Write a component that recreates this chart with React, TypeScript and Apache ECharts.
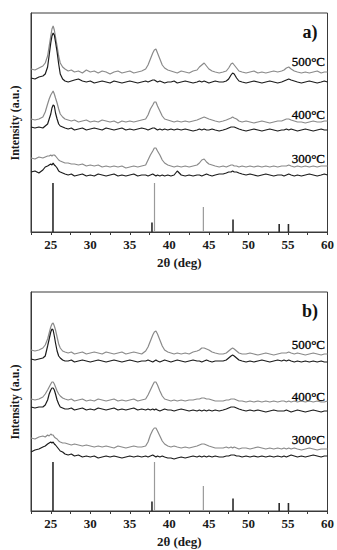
import React, { useEffect, useRef } from "react";
import * as echarts from "echarts";

// 2θ sampling grid (deg), denser around the reflections
const twoTheta = [
  22.5, 23.0, 23.5, 24.0, 24.3, 24.6, 24.8, 25.0, 25.15, 25.3, 25.45, 25.6, 25.8, 26.0, 26.2, 26.5, 26.8,
  27.2, 27.6, 28.0, 28.5, 29.0, 29.5, 30.0, 30.5, 31.0, 31.5, 32.0, 32.5, 33.0, 33.5, 34.0, 34.5, 35.0, 35.5, 36.0, 36.5,
  37.0, 37.3, 37.6, 37.9, 38.1, 38.3, 38.5, 38.8, 39.1, 39.4, 39.8,
  40.2, 40.6, 41.0, 41.5, 42.0, 42.5, 43.0, 43.5,
  43.8, 44.1, 44.4, 44.7, 45.0, 45.4, 45.8, 46.3,
  46.8, 47.2, 47.5, 47.8, 48.0, 48.2, 48.5, 48.8, 49.2,
  49.7, 50.2, 50.7, 51.2, 51.7, 52.2, 52.7, 53.2, 53.7, 54.2,
  54.5, 54.8, 55.1, 55.4, 55.8, 56.2, 56.7, 57.2, 57.7, 58.2, 58.7, 59.2, 59.6, 60.0,
];

// Panel a) — stacked patterns (offset intensity, a.u.)
const a500Grey = [
  163, 162, 164, 166, 169, 176, 186, 196, 203, 206, 202, 195, 186, 176, 169, 165, 163,
  161, 162, 160, 161, 159, 162, 160, 161, 159, 161, 160, 158, 160, 161, 159, 160, 161, 159, 160, 161,
  163, 167, 173, 179, 182, 183, 179, 173, 167, 164, 162,
  161, 160, 159, 161, 160, 159, 161, 162,
  165, 167, 169, 166, 163, 161, 160, 159,
  160, 161, 164, 168, 169, 167, 164, 161, 160,
  159, 160, 161, 159, 160, 159, 160, 161, 160, 161,
  162, 164, 165, 163, 161, 160, 159, 160, 159, 160, 161, 159, 160, 160,
];
const a500Black = [
  154, 153, 155, 156, 158, 165, 177, 189, 196, 199, 197, 190, 180, 168, 158, 153, 151,
  150, 151, 152, 153, 151, 150, 151, 149, 150, 151, 150, 149, 151, 150, 149, 150, 151, 150, 149, 150,
  151, 150, 151, 152, 152, 151, 150, 151, 150, 149, 150,
  150, 151, 149, 150, 151, 150, 149, 150,
  151, 150, 151, 150, 149, 150, 151, 150,
  150, 151, 153, 157, 159, 158, 154, 151, 150,
  149, 150, 151, 150, 149, 150, 151, 150, 149, 150,
  151, 152, 153, 152, 151, 150, 149, 150, 151, 150, 149, 150, 151, 150,
];
const a400Grey = [
  113, 112, 113, 115, 120, 128, 133, 137, 139, 141, 138, 134, 129, 123, 118, 115, 113,
  112, 111, 112, 110, 111, 112, 110, 111, 110, 112, 111, 110, 111, 109, 111, 110, 111, 110, 111, 112,
  113, 117, 123, 127, 130, 130, 126, 121, 116, 113, 112,
  111, 110, 111, 110, 111, 110, 111, 112,
  113, 114, 115, 114, 113, 112, 111, 110,
  111, 112, 113, 114, 115, 114, 113, 111, 110,
  111, 110, 109, 110, 111, 110, 109, 110, 111, 111,
  112, 113, 113, 112, 111, 110, 110, 109, 110, 111, 110, 110, 111, 111,
];
const a400Black = [
  105, 104, 105, 104, 106, 108, 113, 118, 124, 127, 126, 119, 113, 108, 106, 105, 104,
  103, 104, 102, 103, 104, 102, 103, 104, 103, 102, 104, 103, 102, 103, 104, 102, 103, 102, 103, 104,
  103, 102, 103, 104, 104, 103, 102, 103, 102, 103, 102,
  103, 102, 103, 102, 103, 102, 101, 102,
  103, 102, 103, 102, 102, 103, 102, 101,
  102, 103, 104, 105, 105, 105, 104, 103, 102,
  101, 102, 103, 102, 101, 102, 103, 102, 101, 102,
  102, 103, 102, 103, 102, 101, 102, 103, 102, 101, 102, 103, 102, 102,
];
const a300Grey = [
  74, 73, 75, 74, 75, 76, 76, 77, 76, 77, 77, 76, 74, 72, 71, 70, 69,
  69, 68, 68, 67, 68, 66, 67, 66, 67, 65, 66, 65, 66, 65, 66, 64, 65, 66, 65, 66,
  67, 72, 77, 81, 84, 84, 81, 77, 72, 69, 67,
  66, 65, 66, 65, 66, 65, 66, 67,
  69, 72, 73, 70, 68, 67, 66, 65,
  66, 65, 66, 67, 67, 66, 66, 65, 66,
  65, 66, 65, 66, 65, 66, 65, 66, 65, 66,
  66, 66, 67, 66, 65, 66, 65, 66, 65, 66, 65, 66, 66, 66,
];
const a300Black = [
  60, 61, 59, 62, 65, 66, 67, 68, 67, 69, 67, 66, 64, 61, 60, 59, 58,
  57, 58, 56, 57, 58, 56, 57, 56, 58, 57, 56, 57, 58, 56, 57, 56, 57, 58, 56, 57,
  57, 56, 57, 58, 57, 56, 57, 56, 57, 56, 57,
  56, 57, 61, 57, 56, 57, 56, 57,
  57, 56, 57, 58, 57, 56, 57, 58,
  58, 59, 60, 60, 61, 60, 60, 59, 58,
  57, 58, 57, 56, 57, 58, 57, 56, 57, 57,
  56, 57, 58, 57, 56, 57, 56, 57, 58, 57, 56, 57, 58, 57,
];

// Panel b)
const b500Grey = [
  161, 160, 161, 163, 166, 172, 178, 184, 187, 188, 185, 181, 174, 167, 163, 160, 159,
  158, 159, 157, 158, 159, 157, 158, 159, 158, 157, 159, 158, 157, 158, 159, 157, 158, 159, 158, 157,
  160, 164, 170, 176, 179, 180, 177, 171, 165, 161, 159,
  158, 157, 158, 157, 158, 157, 159, 160,
  161, 163, 163, 162, 161, 159, 158, 157,
  157, 158, 160, 162, 163, 162, 160, 158, 157,
  157, 158, 157, 156, 157, 158, 157, 156, 157, 158,
  158, 158, 159, 158, 157, 158, 157, 156, 157, 158, 157, 156, 157, 157,
];
const b500Black = [
  152, 151, 152, 153, 155, 165, 172, 179, 182, 181, 175, 168, 160, 155, 153, 151, 150,
  150, 151, 149, 150, 151, 150, 149, 150, 151, 150, 149, 150, 151, 150, 149, 150, 151, 150, 149, 150,
  150, 151, 150, 149, 150, 151, 150, 149, 150, 151, 150,
  149, 150, 151, 150, 149, 150, 151, 150,
  150, 149, 150, 151, 150, 149, 150, 150,
  150, 151, 153, 155, 156, 155, 153, 151, 150,
  149, 150, 149, 150, 151, 150, 149, 150, 151, 150,
  151, 150, 151, 150, 149, 150, 149, 150, 149, 150, 149, 150, 149, 149,
];
const b400Grey = [
  112, 111, 112, 114, 117, 121, 124, 127, 129, 129, 127, 124, 120, 117, 115, 113, 112,
  111, 112, 110, 111, 112, 110, 111, 110, 112, 111, 110, 111, 112, 110, 111, 110, 111, 112, 110, 111,
  112, 116, 121, 126, 129, 129, 126, 120, 115, 112, 111,
  110, 111, 110, 111, 110, 111, 111, 112,
  112, 113, 113, 112, 112, 111, 110, 110,
  110, 111, 111, 112, 112, 112, 111, 110, 110,
  109, 110, 109, 110, 109, 110, 109, 110, 109, 110,
  110, 109, 110, 109, 110, 109, 110, 109, 110, 109, 110, 109, 109, 110,
];
const b400Black = [
  104, 103, 104, 104, 106, 111, 117, 121, 123, 123, 121, 117, 111, 107, 104, 103, 102,
  102, 103, 101, 102, 103, 101, 102, 101, 103, 102, 101, 102, 103, 101, 102, 101, 102, 103, 101, 102,
  101, 102, 101, 102, 101, 102, 101, 100, 101, 102, 101,
  101, 100, 101, 102, 101, 100, 101, 100,
  101, 100, 101, 100, 101, 100, 101, 100,
  101, 102, 103, 104, 104, 104, 103, 102, 101,
  100, 101, 100, 101, 100, 99, 100, 101, 100, 100,
  100, 101, 100, 99, 100, 101, 100, 99, 100, 101, 100, 99, 100, 100,
];
const b300Grey = [
  73, 72, 74, 75, 74, 76, 75, 77, 76, 76, 74, 73, 72, 70, 69, 68, 68,
  67, 66, 67, 66, 65, 66, 65, 64, 65, 64, 65, 64, 63, 65, 64, 63, 64, 65, 64, 64,
  65, 69, 76, 81, 83, 83, 80, 75, 70, 67, 65,
  64, 65, 64, 63, 64, 63, 64, 65,
  66, 67, 67, 66, 65, 64, 63, 63,
  63, 64, 63, 64, 63, 64, 63, 62, 63,
  63, 62, 63, 64, 63, 62, 63, 62, 63, 62,
  63, 62, 63, 62, 63, 62, 61, 62, 63, 62, 61, 62, 62, 62,
];
const b300Black = [
  59, 61, 62, 64, 65, 67, 68, 69, 68, 69, 67, 66, 64, 62, 60, 59, 57,
  56, 57, 55, 56, 54, 55, 54, 55, 53, 54, 55, 54, 55, 54, 53, 54, 55, 54, 55, 54,
  55, 54, 55, 56, 55, 54, 55, 54, 55, 54, 53,
  53, 52, 53, 54, 53, 54, 55, 54,
  55, 54, 55, 54, 55, 54, 55, 54,
  54, 55, 55, 56, 56, 56, 55, 55, 54,
  55, 54, 55, 54, 55, 54, 55, 54, 55, 54,
  55, 54, 55, 56, 55, 54, 55, 54, 55, 56, 55, 54, 55, 55,
];

// Reference reflections (position in 2θ, stick height)
const anatasePos = [25.28, 37.8, 48.05, 53.89, 55.06];
const anataseHeight = [49, 9.5, 12.5, 8, 8];
const silverPos = [38.12, 44.3];
const silverHeight = [49, 25];

const tempLabels = ["500°C", "400°C", "300°C"];
const panelLabels = ["a)", "b)"];

const SERIF = "'Liberation Serif', 'DejaVu Serif', 'Times New Roman', serif";
const GREY = "#8a8a8a";
const DARK = "#1c1c1c";
const AXIS = "#3a3a3a";

const GRID_LEFT = 31;
const GRID_WIDTH = 298;
const GRID_HEIGHT = 219;
const GRID_TOPS = [13, 292];
const Y_MAX = 219;

function pairs(ys: number[]) {
  return twoTheta.map((t, i) => [t, ys[i]]);
}

function stickSeries(idx: number, pos: number[], h: number[], color: string, width: number) {
  return {
    type: "custom",
    xAxisIndex: idx,
    yAxisIndex: idx,
    data: pos.map((p, i) => [p, h[i]]),
    encode: { x: 0, y: 1 },
    silent: true,
    renderItem: (_params: any, api: any) => {
      const x = api.value(0);
      const hgt = api.value(1);
      const p0 = api.coord([x, 0]);
      const p1 = api.coord([x, hgt]);
      return {
        type: "line",
        shape: { x1: p0[0], y1: p0[1], x2: p1[0], y2: p1[1] },
        style: { stroke: color, lineWidth: width },
      };
    },
  };
}

function lineSeries(idx: number, ys: number[], color: string) {
  return {
    type: "line",
    xAxisIndex: idx,
    yAxisIndex: idx,
    data: pairs(ys),
    showSymbol: false,
    symbol: "none",
    silent: true,
    lineStyle: { color, width: 1.2 },
  };
}

export default function App() {
  const ref = useRef<HTMLDivElement>(null);

  useEffect(() => {
    if (!ref.current) return;
    const chart = echarts.init(ref.current, undefined, { renderer: "svg" });

    const panels = [
      [a500Grey, a500Black, a400Grey, a400Black, a300Grey, a300Black],
      [b500Grey, b500Black, b400Grey, b400Black, b300Grey, b300Black],
    ];

    const grids = GRID_TOPS.map((top) => ({
      left: GRID_LEFT,
      top,
      width: GRID_WIDTH,
      height: GRID_HEIGHT,
      show: true,
      borderColor: AXIS,
      borderWidth: 1,
      backgroundColor: "transparent",
    }));

    const xAxes = GRID_TOPS.map((_, i) => ({
      type: "value",
      gridIndex: i,
      min: 22.5,
      max: 60,
      interval: 2.5,
      name: "2θ (deg)",
      nameLocation: "middle",
      nameGap: 24,
      nameTextStyle: { fontFamily: SERIF, fontWeight: "bold", fontSize: 13, color: "#1a1a1a" },
      axisLine: { show: true, lineStyle: { color: AXIS, width: 1 } },
      axisTick: { show: true, inside: false, length: 3, lineStyle: { color: AXIS } },
      axisLabel: {
        margin: 6,
        fontFamily: SERIF,
        fontWeight: "bold",
        fontSize: 13,
        color: "#1a1a1a",
        formatter: (v: number) => (Math.abs(v % 5) < 1e-6 ? String(v) : ""),
      },
      splitLine: { show: false },
    }));

    const yAxes = GRID_TOPS.map((_, i) => ({
      type: "value",
      gridIndex: i,
      min: 0,
      max: Y_MAX,
      axisLine: { show: true, lineStyle: { color: AXIS, width: 1 } },
      axisTick: { show: false },
      axisLabel: { show: false },
      splitLine: { show: false },
    }));

    const series: any[] = [];
    panels.forEach((traces, idx) => {
      series.push(stickSeries(idx, anatasePos, anataseHeight, "#2a2a2a", 1.6));
      series.push(stickSeries(idx, silverPos, silverHeight, "#9a9a9a", 1.2));
      for (let k = 0; k < traces.length; k += 2) {
        series.push(lineSeries(idx, traces[k], GREY));
        series.push(lineSeries(idx, traces[k + 1], DARK));
      }
    });

    // temperature tags sit at the right end of each pair of patterns
    const tagY = [
      [61.5, 114, 158.5],
      [344, 396.5, 439.5],
    ];
    const graphic: any[] = [];
    GRID_TOPS.forEach((top, i) => {
      graphic.push({
        type: "text",
        x: 15,
        y: top + 110,
        rotation: Math.PI / 2,
        style: {
          text: "Intensity (a.u.)",
          align: "center",
          verticalAlign: "middle",
          font: `bold 12px ${SERIF}`,
          fill: "#1a1a1a",
        },
      });
      graphic.push({
        type: "text",
        x: 310,
        y: top + 19,
        style: {
          text: panelLabels[i],
          align: "center",
          verticalAlign: "middle",
          font: `bold 18px ${SERIF}`,
          fill: "#111",
        },
      });
      tempLabels.forEach((t, j) => {
        graphic.push({
          type: "text",
          x: 325,
          y: tagY[i][j],
          style: {
            text: t,
            align: "right",
            verticalAlign: "middle",
            font: `13px ${SERIF}`,
            fill: "#000",
            stroke: "#000",
            lineWidth: 0.3,
          },
        });
      });
    });

    chart.setOption({
      animation: false,
      backgroundColor: "#ffffff",
      grid: grids,
      xAxis: xAxes,
      yAxis: yAxes,
      series,
      graphic,
    });

    return () => chart.dispose();
  }, []);

  return (
    <div
      ref={ref}
      style={{ position: "fixed", left: 0, top: 0, width: 337, height: 550, background: "#fff" }}
    />
  );
}
